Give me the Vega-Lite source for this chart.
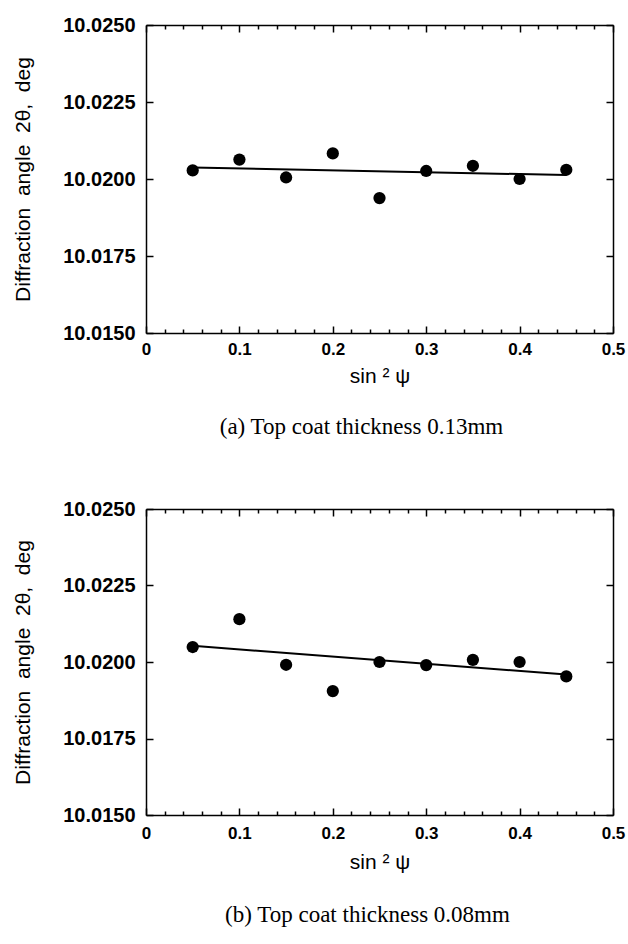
{
  "$schema": "https://vega.github.io/schema/vega-lite/v6.json",
  "padding": {"left": 12, "top": 15, "right": 5, "bottom": 5},
  "background": "white",
  "datasets": {
    "top_pts": [
      {"s": 0.05, "a": 10.02028}, {"s": 0.10, "a": 10.02063}, {"s": 0.15, "a": 10.02005},
      {"s": 0.20, "a": 10.02083}, {"s": 0.25, "a": 10.01938}, {"s": 0.30, "a": 10.02026},
      {"s": 0.35, "a": 10.02043}, {"s": 0.40, "a": 10.02000}, {"s": 0.45, "a": 10.02030}
    ],
    "top_fit": [{"s": 0.05, "a": 10.02037}, {"s": 0.45, "a": 10.02013}],
    "bot_pts": [
      {"s": 0.05, "a": 10.02049}, {"s": 0.10, "a": 10.02140}, {"s": 0.15, "a": 10.01991},
      {"s": 0.20, "a": 10.01905}, {"s": 0.25, "a": 10.02000}, {"s": 0.30, "a": 10.01990},
      {"s": 0.35, "a": 10.02007}, {"s": 0.40, "a": 10.02000}, {"s": 0.45, "a": 10.01953}
    ],
    "bot_fit": [{"s": 0.05, "a": 10.02053}, {"s": 0.45, "a": 10.01959}]
  },
  "vconcat": [
    {
      "width": 467, "height": 308,
      "title": {"text": "(a) Top coat thickness 0.13mm", "orient": "bottom", "anchor": "middle", "font": "Liberation Serif", "fontSize": 23, "fontWeight": "normal", "color": "black", "offset": 30, "dx": -18},
      "layer": [
        {
          "data": {"name": "top_fit"},
          "mark": {"type": "line", "color": "black", "strokeWidth": 2},
          "encoding": {
            "x": {"field": "s", "type": "quantitative", "scale": {"domain": [0, 0.5], "nice": false},
              "axis": {"orient": "bottom", "values": [0, 0.02, 0.04, 0.06, 0.08, 0.1, 0.12, 0.14, 0.16, 0.18, 0.2, 0.22, 0.24, 0.26, 0.28, 0.3, 0.32, 0.34, 0.36, 0.38, 0.4, 0.42, 0.44, 0.46, 0.48, 0.5],
                "labelExpr": "abs(datum.value * 10 - round(datum.value * 10)) < 0.001 ? (datum.value == 0 ? '0' : format(datum.value, '.1f')) : ''",
                "tickSize": {"condition": {"test": "abs(datum.value * 10 - round(datum.value * 10)) < 0.001", "value": -7}, "value": -4},
                "labelPadding": 15, "title": "sin ² ψ", "titlePadding": 8}},
            "y": {"field": "a", "type": "quantitative", "scale": {"domain": [10.015, 10.025], "nice": false, "zero": false},
              "axis": {"orient": "left", "values": [10.015, 10.0175, 10.02, 10.0225, 10.025], "format": ".4f", "tickSize": -7, "labelPadding": 18, "labelFontSize": 20, "title": "Diffraction\u00a0 angle\u00a0 2θ,\u00a0 deg", "titlePadding": 29}}
          }
        },
        {
          "data": {"name": "top_pts"},
          "mark": {"type": "point", "filled": true, "color": "black", "opacity": 1, "size": 150},
          "encoding": {
            "x": {"field": "s", "type": "quantitative",
              "axis": {"orient": "top", "values": [0, 0.02, 0.04, 0.06, 0.08, 0.1, 0.12, 0.14, 0.16, 0.18, 0.2, 0.22, 0.24, 0.26, 0.28, 0.3, 0.32, 0.34, 0.36, 0.38, 0.4, 0.42, 0.44, 0.46, 0.48, 0.5], "labels": false,
                "tickSize": {"condition": {"test": "abs(datum.value * 10 - round(datum.value * 10)) < 0.001", "value": -7}, "value": -4}, "title": null}},
            "y": {"field": "a", "type": "quantitative", "axis": {"orient": "right", "values": [10.015, 10.0175, 10.02, 10.0225, 10.025], "labels": false, "tickSize": -7, "title": null}}
          }
        }
      ],
      "resolve": {"axis": {"x": "independent", "y": "independent"}}
    },
    {
      "width": 467, "height": 306,
      "title": {"text": "(b) Top coat thickness 0.08mm", "orient": "bottom", "anchor": "middle", "font": "Liberation Serif", "fontSize": 23, "fontWeight": "normal", "color": "black", "offset": 32, "dx": -12},
      "layer": [
        {
          "data": {"name": "bot_fit"},
          "mark": {"type": "line", "color": "black", "strokeWidth": 2},
          "encoding": {
            "x": {"field": "s", "type": "quantitative", "scale": {"domain": [0, 0.5], "nice": false},
              "axis": {"orient": "bottom", "values": [0, 0.02, 0.04, 0.06, 0.08, 0.1, 0.12, 0.14, 0.16, 0.18, 0.2, 0.22, 0.24, 0.26, 0.28, 0.3, 0.32, 0.34, 0.36, 0.38, 0.4, 0.42, 0.44, 0.46, 0.48, 0.5],
                "labelExpr": "abs(datum.value * 10 - round(datum.value * 10)) < 0.001 ? (datum.value == 0 ? '0' : format(datum.value, '.1f')) : ''",
                "tickSize": {"condition": {"test": "abs(datum.value * 10 - round(datum.value * 10)) < 0.001", "value": -7}, "value": -4},
                "labelPadding": 17, "title": "sin ² ψ", "titlePadding": 10}},
            "y": {"field": "a", "type": "quantitative", "scale": {"domain": [10.015, 10.025], "nice": false, "zero": false},
              "axis": {"orient": "left", "values": [10.015, 10.0175, 10.02, 10.0225, 10.025], "format": ".4f", "tickSize": -7, "labelPadding": 18, "labelFontSize": 20, "title": "Diffraction\u00a0 angle\u00a0 2θ,\u00a0 deg", "titlePadding": 29}}
          }
        },
        {
          "data": {"name": "bot_pts"},
          "mark": {"type": "point", "filled": true, "color": "black", "opacity": 1, "size": 150},
          "encoding": {
            "x": {"field": "s", "type": "quantitative",
              "axis": {"orient": "top", "values": [0, 0.02, 0.04, 0.06, 0.08, 0.1, 0.12, 0.14, 0.16, 0.18, 0.2, 0.22, 0.24, 0.26, 0.28, 0.3, 0.32, 0.34, 0.36, 0.38, 0.4, 0.42, 0.44, 0.46, 0.48, 0.5], "labels": false,
                "tickSize": {"condition": {"test": "abs(datum.value * 10 - round(datum.value * 10)) < 0.001", "value": -7}, "value": -4}, "title": null}},
            "y": {"field": "a", "type": "quantitative", "axis": {"orient": "right", "values": [10.015, 10.0175, 10.02, 10.0225, 10.025], "labels": false, "tickSize": -7, "title": null}}
          }
        }
      ],
      "resolve": {"axis": {"x": "independent", "y": "independent"}}
    }
  ],
  "spacing": 60,
  "config": {
    "view": {"stroke": null},
    "axis": {
      "grid": false,
      "labelFont": "Liberation Sans", "labelFontWeight": "bold", "labelFontSize": 17, "labelColor": "black", "labelFlush": false,
      "titleFont": "Liberation Sans", "titleFontWeight": "normal", "titleFontSize": 21, "titleColor": "black",
      "domainColor": "black", "domainWidth": 1.5, "tickColor": "black", "tickWidth": 1.5
    }
  }
}
